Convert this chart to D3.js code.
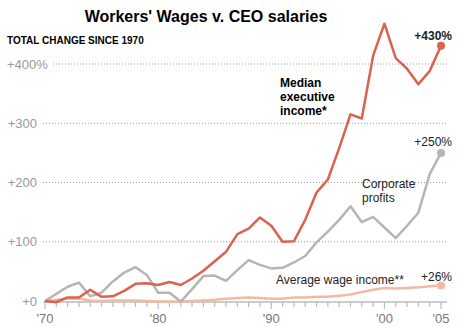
<!DOCTYPE html>
<html>
<head>
<meta charset="utf-8">
<script src="https://cdn.jsdelivr.net/npm/d3@7"></script>
<style>
  body { margin: 0; background: #fff; }
  svg { font-family: Arial, "Liberation Sans", sans-serif; }
</style>
</head>
<body>
<div id="chart"></div>
<script>
const years = d3.range(1970, 2006)

// total % change since 1970
const executive = [0, -2, 6, 6, 19, 7, 8, 17, 29, 30, 27, 32, 27, 38, 51, 67, 83, 113, 122, 141, 127, 100, 101, 137, 183, 205, 258, 315, 308, 414, 468, 410, 392, 366, 388, 431]
const profits = [0, 12, 24, 31, 8, 14, 33, 48, 57, 44, 14, 14, -1, 20, 42, 43, 34, 52, 69, 61, 55, 56, 65, 76, 99, 117, 137, 160, 133, 142, 124, 106, 127, 149, 214, 250]
const wages = [0, 2, 4, 4, 1, 0, 1, 1, 1, 0, -1, -1, -1, 0, 1, 2, 4, 5, 6, 5, 4, 4, 6, 6, 7, 7, 9, 11, 15, 19, 22, 21, 22, 23, 25, 26]

const yTicks = [0, 100, 200, 300, 400]
const xTickLabels = [[1970, "'70"], [1980, "'80"], [1990, "'90"], [2000, "'00"], [2005, "'05"]]

const W = 460, H = 326

const svg = d3.select("#chart").append("svg")
  .attr("width", W)
  .attr("height", H)

const x = d3.scaleLinear().domain([1970, 2005]).range([45, 441])
const y = d3.scaleLinear().domain([0, 400]).range([301, 64])

svg.append("text")
  .attr("x", 206).attr("y", 22)
  .attr("text-anchor", "middle")
  .attr("font-size", 16).attr("font-weight", "bold")
  .attr("fill", "#000")
  .text("Workers' Wages v. CEO salaries")

svg.append("text")
  .attr("x", 7).attr("y", 44)
  .attr("font-size", 10).attr("font-weight", "bold")
  .attr("fill", "#000")
  .text("TOTAL CHANGE SINCE 1970")

// grid lines + y labels
const grid = svg.append("g")
yTicks.filter(d => d > 0).forEach(d => {
  grid.append("line")
    .attr("x1", d === 400 ? 53 : 43).attr("x2", 447)
    .attr("y1", y(d)).attr("y2", y(d))
    .attr("stroke", "#999").attr("stroke-dasharray", "1,2")
})
yTicks.forEach(d => {
  const t = grid.append("text")
    .attr("x", 37).attr("y", y(d) + 4.5)
    .attr("text-anchor", "end")
    .attr("font-size", 13).attr("fill", "#999")
  t.append("tspan").text("+" + d)
  if (d === 400) t.append("tspan").text("%")
})
// "%" shouldn't shift the number to the left: re-anchor the 400 label
grid.selectAll("text").filter(function () { return this.textContent === "+400%" })
  .attr("text-anchor", "start").attr("x", 7)

// x axis
const xAxis = svg.append("g")
xAxis.append("line")
  .attr("x1", 43).attr("x2", 447)
  .attr("y1", y(0) + 1).attr("y2", y(0) + 1)
  .attr("stroke", "#bbb").attr("stroke-width", 1.5)
const major = xTickLabels.map(d => d[0])
years.forEach(yr => {
  xAxis.append("line")
    .attr("x1", x(yr)).attr("x2", x(yr))
    .attr("y1", y(0) + 1).attr("y2", y(0) + (major.includes(yr) ? 8 : 6))
    .attr("stroke", "#bbb").attr("stroke-width", 1.2)
})
xTickLabels.forEach(([yr, lab]) => {
  xAxis.append("text")
    .attr("x", x(yr)).attr("y", 323)
    .attr("text-anchor", "middle")
    .attr("font-size", 13).attr("fill", "#777")
    .text(lab)
})

const line = d3.line()
  .x((d, i) => x(years[i]))
  .y(d => y(d))

const series = [
  { values: wages, color: "#f3b9a3" },
  { values: profits, color: "#b5b5b5" },
  { values: executive, color: "#d9634c" }
]

series.forEach(s => {
  svg.append("path")
    .datum(s.values)
    .attr("fill", "none")
    .attr("stroke", s.color)
    .attr("stroke-width", 2.5)
    .attr("stroke-linejoin", "round")
    .attr("d", line)
  svg.append("circle")
    .attr("cx", x(2005)).attr("cy", y(s.values.at(-1)))
    .attr("r", 4)
    .attr("fill", s.color)
})

// annotations
const note = (tx, ty, txt, opts = {}) => svg.append("text")
  .attr("x", tx).attr("y", ty)
  .attr("text-anchor", opts.anchor || "start")
  .attr("font-size", 12)
  .attr("font-weight", opts.bold ? "bold" : "normal")
  .attr("fill", opts.fill || "#222")
  .text(txt)

note(452, 40, "+430%", { anchor: "end", bold: true })
note(280, 87, "Median", { bold: true, fill: "#000" })
note(280, 101, "executive", { bold: true, fill: "#000" })
note(280, 115, "income*", { bold: true, fill: "#000" })
note(452, 146, "+250%", { anchor: "end" })
note(362, 188, "Corporate")
note(362, 202, "profits")
note(276, 284, "Average wage income**")
note(452, 281, "+26%", { anchor: "end" })
</script>
</body>
</html>
